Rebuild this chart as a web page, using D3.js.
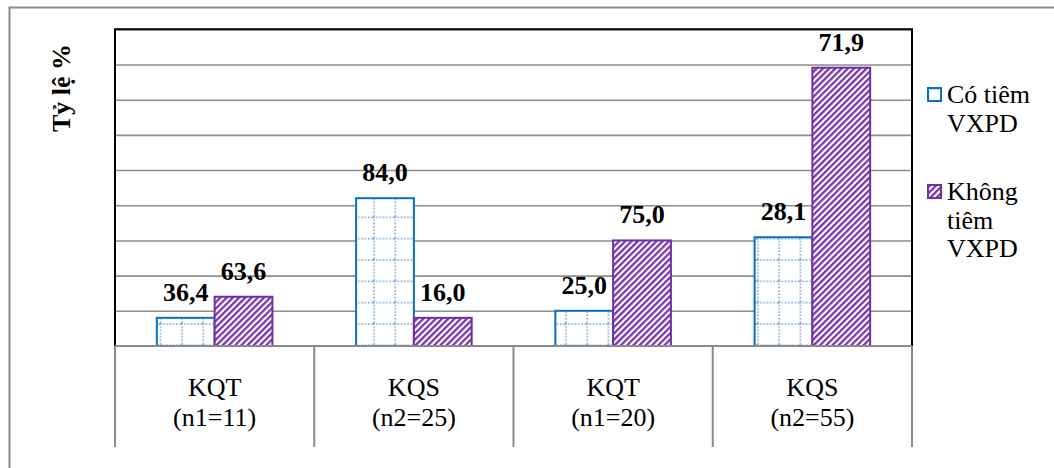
<!DOCTYPE html>
<html>
<head>
<meta charset="utf-8">
<script src="https://cdn.jsdelivr.net/npm/d3@7"></script>
</head>
<body style="margin:0">
<svg id="chart" width="1054" height="468"></svg>
<script>
// Groups along the x axis
const groups = ["KQT", "KQS", "KQT", "KQS"];
const sampleTags = ["n1", "n2", "n1", "n2"];
const sampleSizes = [11, 25, 20, 55];

// Percentages per group
const pctVaccinated = [36.4, 84.0, 25.0, 28.1];
const pctNotVaccinated = [63.6, 16.0, 75.0, 71.9];

const seriesNames = ["Có tiêm VXPD", "Không tiêm VXPD"];
const legendLines = [["Có tiêm", "VXPD"], ["Không", "tiêm", "VXPD"]];

// Gridline values (number of cases)
const gridValues = [5, 10, 15, 20, 25, 30, 35, 40, 45];

const FONT = '"Liberation Serif"';
const svg = d3.select("#chart");
const W = 1054, H = 468;
const plot = { left: 115, right: 912, top: 29.3, bottom: 346 };

// Bars show the number of cases: percentage of the group's sample size
const series = [
  { name: seriesNames[0], pct: pctVaccinated, cls: "with" },
  { name: seriesNames[1], pct: pctNotVaccinated, cls: "without" }
];

const x = d3.scaleBand().domain(d3.range(groups.length)).range([plot.left, plot.right]).padding(0);
const y = d3.scaleLinear().domain([0, 45]).range([plot.bottom, plot.top]);
const barW = x.bandwidth() * 0.29;

const fmt = v => d3.format(".1f")(v).replace(".", ",");

// Patterns: dotted grid and diagonal hatch
const defs = svg.append("defs");
const grid = defs.append("pattern")
  .attr("id", "dotgrid").attr("patternUnits", "userSpaceOnUse")
  .attr("x", 10.3).attr("y", 3).attr("width", 21.33).attr("height", 21.33);
grid.append("rect").attr("width", 21.33).attr("height", 21.33).attr("fill", "#fff");
grid.append("line").attr("x1", 1).attr("x2", 1).attr("y1", 0).attr("y2", 21.33)
  .attr("stroke", "#6fa6da").attr("stroke-width", 1.7).attr("stroke-dasharray", "1.4,1.9");
grid.append("line").attr("x1", 0).attr("x2", 21.33).attr("y1", 1).attr("y2", 1)
  .attr("stroke", "#6fa6da").attr("stroke-width", 1.7).attr("stroke-dasharray", "1.4,1.9");

const hatch = defs.append("pattern")
  .attr("id", "hatch").attr("patternUnits", "userSpaceOnUse")
  .attr("width", 4.4).attr("height", 10).attr("patternTransform", "rotate(45)");
hatch.append("rect").attr("width", 4.4).attr("height", 10).attr("fill", "#fff");
hatch.append("rect").attr("width", 2.3).attr("height", 10).attr("fill", "#7a35b0");

const fills = { with: "url(#dotgrid)", without: "url(#hatch)" };
const strokes = { with: "#0a70c4", without: "#7030a0" };

svg.append("rect").attr("width", W).attr("height", H).attr("fill", "#fff");

// Outer frame (left and top edges)
svg.append("path").attr("d", "M9.5,468V7.5H1054")
  .attr("fill", "none").attr("stroke", "#8a8a8a").attr("stroke-width", 2);

// Gridlines
const gridAxis = d3.axisLeft(y).tickValues(gridValues).tickSize(-(plot.right - plot.left)).tickFormat("");
svg.append("g").attr("transform", `translate(${plot.left},0)`).call(gridAxis)
  .call(g => g.select(".domain").remove())
  .call(g => g.selectAll("line").attr("stroke", "#8e8e8e").attr("stroke-width", 1.6));

// Bars
series.forEach((s, si) => {
  svg.append("g").selectAll("rect").data(s.pct).join("rect")
    .attr("x", (d, i) => x(i) + x.bandwidth() / 2 - barW + si * barW)
    .attr("y", (d, i) => y(d * sampleSizes[i] / 100))
    .attr("width", barW)
    .attr("height", (d, i) => plot.bottom - y(d * sampleSizes[i] / 100))
    .attr("fill", fills[s.cls])
    .attr("stroke", strokes[s.cls])
    .attr("stroke-width", 2);
});

// Plot border: top, left and right in black
svg.append("path")
  .attr("d", `M${plot.left},${plot.bottom}V${plot.top}H${plot.right}V${plot.bottom}`)
  .attr("fill", "none").attr("stroke", "#000").attr("stroke-width", 2);

// Category axis: baseline and box separators
svg.append("line").attr("x1", plot.left).attr("x2", plot.right)
  .attr("y1", plot.bottom).attr("y2", plot.bottom)
  .attr("stroke", "#8a8a8a").attr("stroke-width", 2);
const edges = d3.range(groups.length + 1).map(i => i < groups.length ? x(i) : plot.right);
svg.append("g").selectAll("line").data(edges).join("line")
  .attr("x1", d => d).attr("x2", d => d)
  .attr("y1", plot.bottom).attr("y2", 447)
  .attr("stroke", "#8a8a8a").attr("stroke-width", 2);

// Category labels: two lines per group
const catX = (d, i) => x(i) + x.bandwidth() / 2;
svg.append("g").selectAll("text").data(groups).join("text")
  .attr("x", catX).attr("y", 396)
  .attr("text-anchor", "middle").attr("font-size", 26)
  .style("font-family", FONT)
  .text(d => d);
svg.append("g").selectAll("text").data(groups).join("text")
  .attr("x", catX).attr("y", 426)
  .attr("text-anchor", "middle").attr("font-size", 26)
  .style("font-family", FONT)
  .text((d, i) => `(${sampleTags[i]}=${sampleSizes[i]})`);

// Value labels
series.forEach((s, si) => {
  svg.append("g").selectAll("text").data(s.pct).join("text")
    .attr("x", (d, i) => x(i) + x.bandwidth() / 2 - barW / 2 + si * barW)
    .attr("y", (d, i) => y(d * sampleSizes[i] / 100) - 17)
    .attr("text-anchor", "middle")
    .attr("font-size", 26).attr("font-weight", "bold")
    .style("font-family", FONT)
    .text(d => fmt(d));
});

// Y axis title
svg.append("text")
  .attr("transform", "translate(70,88) rotate(-90)")
  .attr("text-anchor", "middle")
  .attr("font-size", 26).attr("font-weight", "bold")
  .style("font-family", FONT)
  .text("Tỷ lệ %");

// Legend
const legendTop = [103, 200];
series.forEach((s, i) => {
  svg.append("rect")
    .attr("x", 928).attr("y", legendTop[i] - 15)
    .attr("width", 13).attr("height", 13)
    .attr("fill", fills[s.cls]).attr("stroke", strokes[s.cls]).attr("stroke-width", 2);
  svg.append("g").selectAll("text").data(legendLines[i]).join("text")
    .attr("x", 947).attr("y", (t, j) => legendTop[i] + j * 28.5)
    .attr("font-size", 26)
    .style("font-family", FONT)
    .text(t => t);
});
</script>
</body>
</html>
